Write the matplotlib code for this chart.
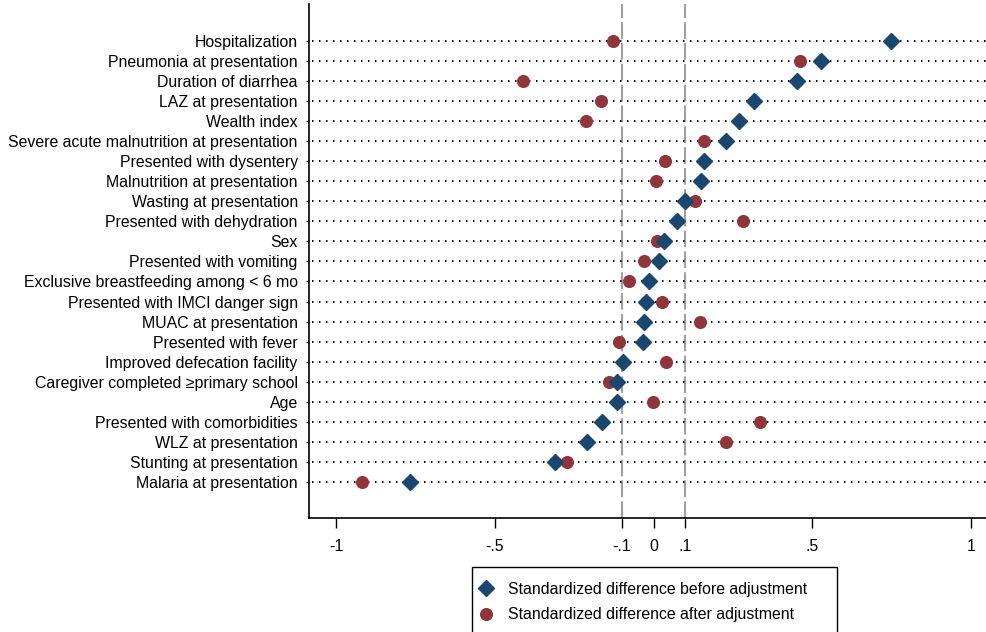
import matplotlib.pyplot as plt
from matplotlib.patches import Rectangle
import numpy as np

plt.rcParams['font.family'] = ['Liberation Sans', 'DejaVu Sans']

# covariates, top to bottom
labels = ["Hospitalization", "Pneumonia at presentation", "Duration of diarrhea",
          "LAZ at presentation", "Wealth index", "Severe acute malnutrition at presentation",
          "Presented with dysentery", "Malnutrition at presentation", "Wasting at presentation",
          "Presented with dehydration", "Sex", "Presented with vomiting",
          "Exclusive breastfeeding among < 6 mo", "Presented with IMCI danger sign",
          "MUAC at presentation", "Presented with fever", "Improved defecation facility",
          "Caregiver completed \u2265primary school", "Age", "Presented with comorbidities",
          "WLZ at presentation", "Stunting at presentation", "Malaria at presentation"]

before = [0.748, 0.528, 0.453, 0.316, 0.270, 0.228, 0.158, 0.149, 0.100, 0.075, 0.033, 0.017,
          -0.014, -0.024, -0.030, -0.032, -0.095, -0.116, -0.116, -0.162, -0.208, -0.309, -0.767]
after = [-0.128, 0.461, -0.410, -0.166, -0.213, 0.159, 0.035, 0.008, 0.131, 0.283, 0.012, -0.029,
         -0.076, 0.026, 0.146, -0.109, 0.038, -0.139, -0.002, 0.335, 0.227, -0.271, -0.919]

xticks = [-1, -0.5, -0.1, 0, 0.1, 0.5, 1]
xticklabels = ["-1", "-.5", "-.1", "0", ".1", ".5", "1"]

navy = "#1a476f"
maroon = "#90353b"
fs = 11.4

fig = plt.figure(figsize=(9.87, 6.32), dpi=100)
ax = fig.add_axes([0.313, 0.1804, 0.687, 0.8133])

n = len(labels)
ypos = np.arange(n)[::-1]

xmin, xmax = -1.085, 1.050
for y in ypos:
    ax.plot([xmin + 0.01, xmax], [y, y], color="black", lw=1.4, linestyle=(0, (0.75, 2.85)), zorder=1)

for xv in [-0.1, 0.1]:
    ax.axvline(xv, color="#a0a0a0", lw=1.5, linestyle=(0, (8, 2)), zorder=0)

ax.plot(before, ypos, linestyle="none", marker="D", ms=8.6, color=navy, zorder=3,
        label="Standardized difference before adjustment")
ax.plot(after, ypos, linestyle="none", marker="o", ms=8.4, color=maroon, zorder=2,
        label="Standardized difference after adjustment")

ax.set_xlim(xmin, xmax)
ax.set_ylim(-1.8, n - 1 + 1.845)
ax.set_yticks(ypos)
ax.set_yticklabels(labels, fontsize=fs)
ax.set_xticks(xticks)
ax.set_xticklabels(xticklabels, fontsize=fs)
ax.tick_params(axis="x", length=7, width=1, pad=8)
ax.tick_params(axis="y", length=2, width=1, pad=6)

ax.spines["top"].set_visible(False)
ax.spines["right"].set_visible(False)
for s in ["left", "bottom"]:
    ax.spines[s].set_linewidth(1.2)

# legend box (runs off the bottom edge like the original)
fig.patches.append(Rectangle((472 / 987, -0.05), (837 - 472) / 987, 0.05 + (632 - 567) / 632,
                             transform=fig.transFigure, fill=False, edgecolor="black", lw=1.0))
fig.legend(loc="upper left", bbox_to_anchor=(472 / 987, (632 - 574) / 632), borderaxespad=0,
           fontsize=fs, frameon=False, borderpad=0.5, handletextpad=1.0,
           labelspacing=0.65, handlelength=0.8)

fig.savefig("out.png", dpi=100)
